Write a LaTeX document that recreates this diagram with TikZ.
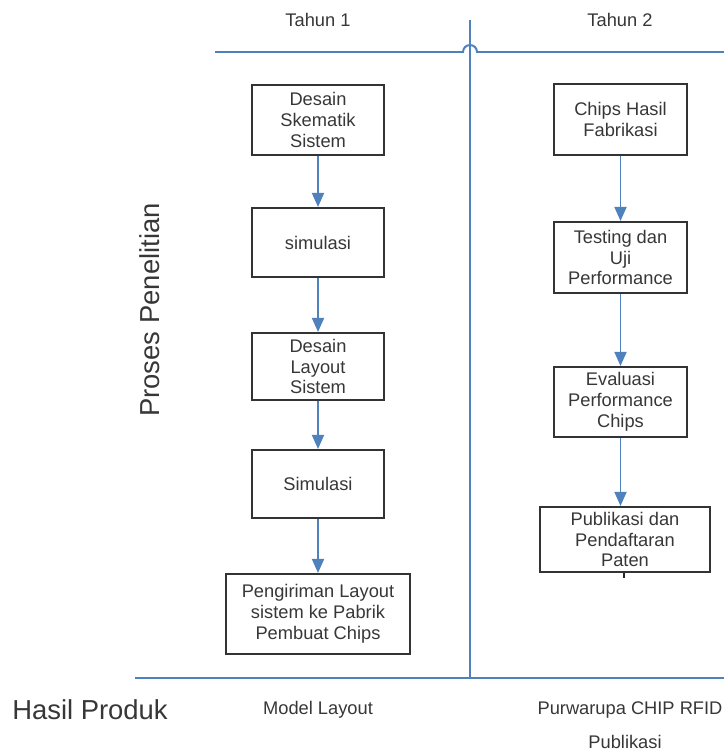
\documentclass[tikz,border=0pt]{standalone}
\usepackage{fontspec}
\setmainfont{Liberation Sans}
\usetikzlibrary{arrows.meta,positioning}
\definecolor{laneblue}{RGB}{79,129,189}
\definecolor{textgray}{RGB}{55,55,55}

\begin{document}
\begin{tikzpicture}[x=0.025cm,y=-0.025cm,
  box/.style={draw=black!80,line width=1.4pt,align=center,text=textgray,
    font=\fontsize{13}{14.8}\selectfont,inner sep=1pt},
  flow/.style={laneblue,line width=1.4pt,-{Triangle[length=10pt,width=8.5pt]}},
  lane/.style={laneblue,line width=1.4pt},
  label/.style={text=textgray,font=\fontsize{13}{15}\selectfont},
  biglabel/.style={text=textgray,font=\fontsize{19.5}{22}\selectfont}]
  \useasboundingbox (0,0) rectangle (724,751);

  % Lanes
  \draw[lane] (215,52) -- (463,52) arc (180:360:7) -- (724,52);
  \draw[lane] (470,20) -- (470,678);
  \draw[lane] (135,678) -- (724,678);

  \node[label]    (year 1) at (318,20)  {Tahun 1};
  \node[label]    (year 2) at (620,20)  {Tahun 2};
  \node[biglabel,rotate=90] (process) at (150,310) {Proses Penelitian};
  \node[biglabel] (product) at (90,710) {Hasil Produk};

  \begin{scope}
	  % Tahun 1
	  \node[box,minimum width=3.3cm,minimum height=1.75cm]  (L 1) at (318,120)   {Desain\\Skematik\\Sistem};
	  \node[box,minimum width=3.3cm,minimum height=1.725cm] (L 2) at (318,242.5) {simulasi};
	  \node[box,minimum width=3.3cm,minimum height=1.675cm] (L 3) at (318,366.5) {Desain\\Layout\\Sistem};
	  \node[box,minimum width=3.3cm,minimum height=1.7cm]   (L 4) at (318,484)   {Simulasi};
	  \node[box,minimum width=4.6cm,minimum height=2cm]     (L 5) at (318,614)   {Pengiriman Layout\\sistem ke Pabrik\\Pembuat Chips};
	  \draw[flow] (L 1) -- (L 2);
	  \draw[flow] (L 2) -- (L 3);
	  \draw[flow] (L 3) -- (L 4);
	  \draw[flow] (L 4) -- (L 5);
	  \node[label] (L result) at (318,710) {Model Layout};
  \end{scope}

  \begin{scope}
	  % Tahun 2
	  \node[box,minimum width=3.325cm,minimum height=1.775cm] (R 1) at (620.5,119.5) {Chips Hasil\\Fabrikasi};
	  \node[box,minimum width=3.325cm,minimum height=1.775cm] (R 2) at (620.5,257.5) {Testing dan\\Uji\\Performance};
	  \node[box,minimum width=3.325cm,minimum height=1.75cm]  (R 3) at (620.5,402)   {Evaluasi\\Performance\\Chips};
	  \node[box,minimum width=4.25cm,minimum height=1.625cm]  (R 4) at (625,539.5)   {Publikasi dan\\Pendaftaran\\Paten};
	  \draw[flow] (R 1) -- (R 2);
	  \draw[flow] (R 2) -- (R 3);
	  \draw[flow] (R 3.south) -- (R 3.south |- R 4.north);
	  \coordinate (R 4 stub) at (624,578);
	  \draw[black!85,line width=0.8pt] (R 4.south -| R 4 stub) -- (R 4 stub);
	  \node[label] (R result 1) at (630,710) {Purwarupa CHIP RFID};
	  \node[label] (R result 2) at (625,742) {Publikasi};
  \end{scope}
\end{tikzpicture}
\end{document}
